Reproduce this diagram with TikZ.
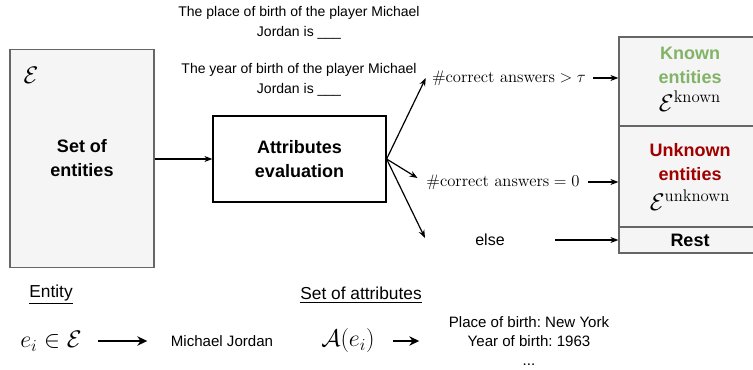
\documentclass[tikz,border=0pt]{standalone}
\usepackage{fix-cm}
\usepackage{amsmath}
\usepackage[no-math]{fontspec}
\newfontfamily\arial{Liberation Sans}
\usetikzlibrary{arrows.meta,positioning}
\definecolor{boxgray}{RGB}{245,245,245}
\definecolor{edgegray}{RGB}{102,102,102}
\definecolor{knowngreen}{RGB}{130,179,102}
\definecolor{unknownred}{RGB}{160,0,0}

% fonts used in the nodes
\newcommand{\promptfont}{\arial\fontsize{10.5}{15}\selectfont}
\newcommand{\titlefont}{\arial\bfseries\fontsize{13.5}{18}\selectfont}
\newcommand{\notefont}{\arial\frenchspacing\fontsize{11.3}{14.3}\selectfont}

\tikzset{
  setbox/.style={draw=edgegray, fill=boxgray, line width=0.9pt, minimum width=108pt,
    minimum height=164pt, font=\titlefont, align=center},
  evalbox/.style={draw=black, fill=white, line width=0.9pt, minimum width=129.75pt,
    minimum height=64.5pt, font=\titlefont, align=center},
  catbox/.style={draw=edgegray, fill=boxgray, line width=0.9pt, minimum width=106.5pt,
    align=center, inner sep=0pt},
  prompt/.style={font=\promptfont, align=center},
  cond/.style={font=\fontsize{12.5}{15}\selectfont, inner sep=1pt},
  heading/.style={font=\arial\fontsize{13}{15}\selectfont},
  note/.style={font=\notefont, align=center, inner sep=1pt},
  bigmath/.style={font=\fontsize{18}{20}\selectfont, inner sep=1pt},
  arr/.style={-{Stealth[length=6pt, width=4.5pt]}, line width=0.9pt},
  bigarr/.style={-{Stealth[length=7.5pt, width=7pt]}, line width=1.4pt}
}

\begin{document}
\begin{tikzpicture}[x=0.75pt, y=-0.75pt]
  \useasboundingbox (0,0) rectangle (753,370);
  \clip (0,0) rectangle (753,370);

  % left: the set of entities
  \node[setbox] (entities) at (82,158.5) {Set of\\entities};
  \node[bigmath] (entsym) at (31,75) {$\mathcal{E}$};

  % middle: evaluation with its prompts
  \node[evalbox] (eval) at (299.5,159) {Attributes\\evaluation};
  \node[prompt] (placeq) at (299,23) {The place of birth of the player Michael\\Jordan is \_\_\_};
  \node[prompt] (yearq) at (299,79.5) {The year of birth of the player Michael\\Jordan is \_\_\_};

  \draw[arr] (entities.east |- eval) -- (eval.west);

  % conditions
  \node[cond] (gt) at (509,78) {$\#\mathrm{correct\ answers} > \tau$};
  \node[cond] (eq) at (503,182) {$\#\mathrm{correct\ answers} = 0$};
  \node[font=\arial\fontsize{12}{14}\selectfont, inner sep=1pt] (else) at (490,240) {else};
  \coordinate (elsetip) at (425,238);

  % right: the resulting groups
  \node[catbox, minimum height=66.75pt] (known) at (690,81.5) {};
  \node[catbox, minimum height=75.75pt] (unknown) at (690,176.5) {};
  \node[catbox, minimum height=19.5pt, font=\titlefont] (rest) at (690,240) {Rest};
  \node[align=center, text=knowngreen, font=\titlefont] (knowntxt) at (690,65.5) {Known\\entities};
  \node[bigmath] (knownsym) at (690,101) {$\mathcal{E}^{\mathrm{known}}$};
  \node[align=center, text=unknownred, font=\titlefont] (unknowntxt) at (690,162) {Unknown\\entities};
  \node[bigmath] (unknownsym) at (690,200) {$\mathcal{E}^{\mathrm{unknown}}$};

  \draw[arr] (eval.east) -- ([xshift=-3.5pt]gt.west);
  \draw[arr] (eval.east) -- ([xshift=-5.5pt, yshift=3pt]eq.west);
  \draw[arr] (eval.east) -- (elsetip);
  \draw[arr] ([xshift=4pt]gt.east) -- (gt -| known.west);
  \draw[arr] ([xshift=5pt]eq.east) -- (eq -| unknown.west);
  \draw[arr] ([xshift=36.75pt]else.east) -- (rest.west);

  % bottom: notation
  \node[heading] (enthead) at (51,295) {\underline{Entity}};
  \node[heading] (attrhead) at (361,295) {\underline{Set of attributes}};
  \node[bigmath] (ein) at (51,341) {$e_i \in \mathcal{E}$};
  \node[note] (mj) at (222,341) {Michael Jordan};
  \node[bigmath] (aei) at (348,341) {$\mathcal{A}(e_i)$};
  \node[note] (attrvals) at (529,341) {Place of birth: New York\\Year of birth: 1963\\...};

  \draw[bigarr] ([xshift=11pt]ein.east) -- ([xshift=-16.5pt]mj.west);
  \draw[bigarr] ([xshift=12.5pt]aei.east) -- ([xshift=-21pt]attrvals.west |- aei);
\end{tikzpicture}
\end{document}
